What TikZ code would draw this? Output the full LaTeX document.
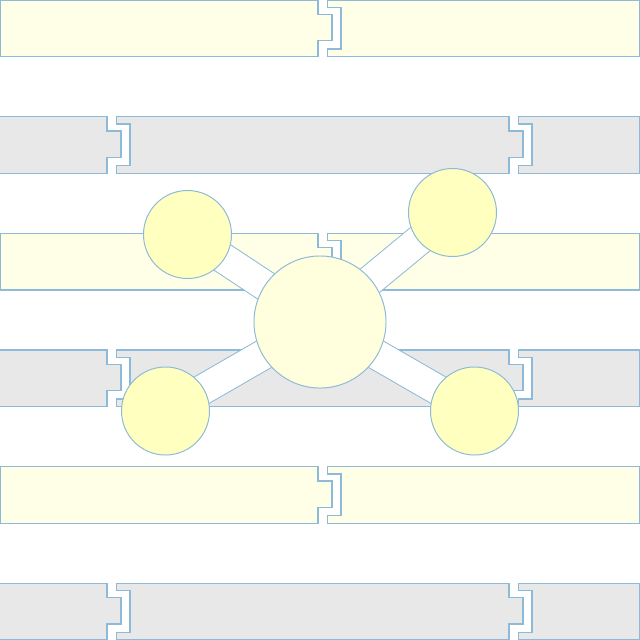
\documentclass[tikz,border=0pt]{standalone}
\usepackage{tikz}
\definecolor{edge}{HTML}{8DBAD8}
\definecolor{plankY}{HTML}{FFFFE8}
\definecolor{plankG}{HTML}{E8E8E8}
\definecolor{hubY}{HTML}{FFFFDE}
\definecolor{leafY}{HTML}{FFFFC0}
\pgfdeclarelayer{planks}
\pgfdeclarelayer{bars}
\pgfsetlayers{planks,bars,main}
\tikzset{
    plank/.style={draw=edge, line width=0.8pt, fill=#1},
    bar/.style={draw=edge, line width=0.7pt, double=white, double distance=0.73cm},
    hub/.style={circle, draw=edge, line width=0.7pt, fill=hubY, inner sep=0pt, minimum size=3.3cm},
    leaf/.style={circle, draw=edge, line width=0.7pt, fill=leafY, inner sep=0pt, minimum size=2.2cm},
}

\begin{document}
\begin{tikzpicture}[x=0.025cm, y=-0.025cm]
\useasboundingbox (0,0) rectangle (640,640);
\clip (0,0) rectangle (640,640);

\begin{pgfonlayer}{planks}
% yellow rows, one joint
\foreach \t in {0,233.33,466.67}{
    \draw[plank=plankY] (0.3,\t) -- (318,\t) -- (318,\t+14.3) -- (332,\t+14.3) -- (332,\t+40.6) -- (318,\t+40.6) -- (318,\t+56.7) -- (0.3,\t+56.7) -- cycle;
    \draw[plank=plankY] (639.5,\t) -- (327.5,\t) -- (327.5,\t+7.3) -- (341,\t+7.3) -- (341,\t+49) -- (327.5,\t+49) -- (327.5,\t+56.7) -- (639.5,\t+56.7) -- cycle;
}
% grey rows, two joints
\foreach \t in {116.67,350,583.33}{
    \draw[plank=plankG] (-1,\t) -- (107,\t) -- (107,\t+14.3) -- (121,\t+14.3) -- (121,\t+40.6) -- (107,\t+40.6) -- (107,\t+56.7) -- (-1,\t+56.7) -- cycle;
    \draw[plank=plankG] (116.5,\t) -- (509,\t) -- (509,\t+14.3) -- (523,\t+14.3) -- (523,\t+40.6) -- (509,\t+40.6) -- (509,\t+56.7) -- (116.5,\t+56.7) -- (116.5,\t+49) -- (130,\t+49) -- (130,\t+7.3) -- (116.5,\t+7.3) -- cycle;
    \draw[plank=plankG] (518.5,\t) -- (639.5,\t) -- (639.5,\t+56.7) -- (518.5,\t+56.7) -- (518.5,\t+49) -- (532,\t+49) -- (532,\t+7.3) -- (518.5,\t+7.3) -- cycle;
}
\end{pgfonlayer}

\node[hub] (hub) at (320,322) {};
\node[leaf] (nw) at (187.5,234.5) {};
\node[leaf] (ne) at (452.5,212.5) {};
\node[leaf] (sw) at (165.5,411) {};
\node[leaf] (se) at (474.5,411) {};

\begin{pgfonlayer}{bars}
\foreach \n in {nw,ne,sw,se}
    \draw[bar] (\n.center) -- (hub.center);
\end{pgfonlayer}
\end{tikzpicture}
\end{document}
